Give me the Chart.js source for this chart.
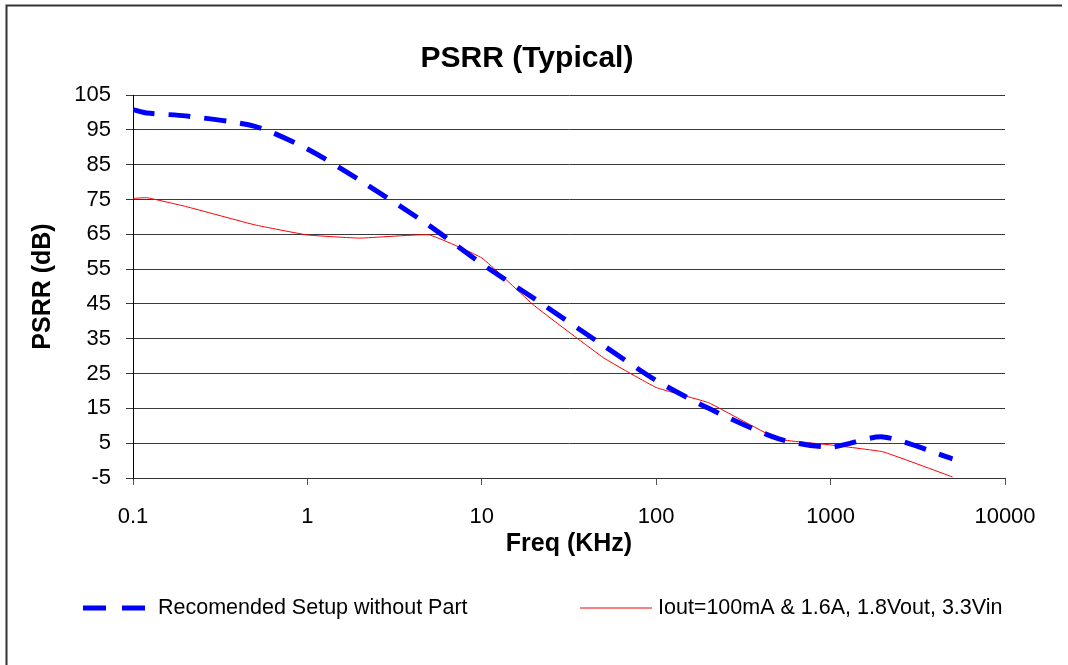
<!DOCTYPE html>
<html>
<head>
<meta charset="utf-8">
<script src="https://cdn.jsdelivr.net/npm/chart.js@4/dist/chart.umd.min.js"></script>
<style>
  html, body { margin: 0; padding: 0; background: #fff; }
  #wrap { width: 1068px; height: 665px; position: relative; }
</style>
</head>
<body>
<div id="wrap"><canvas id="psrr"></canvas></div>
<script>
// frequency points (KHz)
var freqs = [0.1, 0.12, 0.2, 0.5, 1, 2, 5, 10, 20, 50, 100, 200, 500, 1000, 2000, 5000];
// recommended setup without part (dB)
var setupDb = [100.8, 99.8, 99, 96, 89.5, 80.5, 67.5, 56.5, 46.5, 33, 23, 15, 6.3, 3.9, 6.8, 0.5];
// Iout=100mA & 1.6A (dB)
var ioutDb = [75.3, 75.5, 73, 67.7, 64.8, 63.9, 64.8, 58.2, 44.5, 29.5, 21, 16.6, 6.2, 4.5, 2.5, -4.7];

var xTicks = [0.1, 1, 10, 100, 1000, 10000];
var seriesNames = ["Recomended Setup without Part", "Iout=100mA & 1.6A, 1.8Vout, 3.3Vin"];
var chartTitle = "PSRR (Typical)";

var FONT = "'Liberation Sans', Arial, Helvetica, sans-serif";

function pts(ys) {
    return freqs.map(function (f, i) { return { x: f, y: ys[i] }; });
}

// title, legend and outer frame
var decor = {
    id: "decor",
    beforeDraw: function (chart) {
        var ctx = chart.ctx;
        ctx.save();
        ctx.fillStyle = "#fff";
        ctx.fillRect(0, 0, chart.width, chart.height);
        ctx.strokeStyle = "#333";
        ctx.lineWidth = 2;
        ctx.beginPath();
        ctx.moveTo(6.5, chart.height);
        ctx.lineTo(6.5, 5.5);
        ctx.lineTo(1062, 5.5);
        ctx.stroke();
        ctx.restore();
    },
    afterDraw: function (chart) {
        var ctx = chart.ctx;
        ctx.save();
        ctx.fillStyle = "#000";
        ctx.textAlign = "center";
        ctx.textBaseline = "middle";
        ctx.font = "bold 30px " + FONT;
        ctx.fillText(chartTitle, 527, 59);

        // legend
        var ly = 608;
        ctx.lineCap = "butt";
        ctx.strokeStyle = "#0000ff";
        ctx.lineWidth = 5;
        ctx.setLineDash([23, 16]);
        ctx.beginPath();
        ctx.moveTo(83, ly);
        ctx.lineTo(146, ly);
        ctx.stroke();
        ctx.setLineDash([]);
        ctx.strokeStyle = "#ff0000";
        ctx.lineWidth = 1;
        ctx.beginPath();
        ctx.moveTo(580, ly);
        ctx.lineTo(652, ly);
        ctx.stroke();

        ctx.font = "21.5px " + FONT;
        ctx.textAlign = "left";
        ctx.fillText(seriesNames[0], 158, ly);
        ctx.fillText(seriesNames[1], 658, ly);
        ctx.restore();
    }
};

var ctx = document.getElementById("psrr").getContext("2d");
var chart = new Chart(ctx, {
    type: "line",
    data: {
        datasets: [
            {
                label: seriesNames[0],
                data: pts(setupDb),
                borderColor: "#0000ff",
                backgroundColor: "rgba(0, 0, 0, 0)",
                borderWidth: 5,
                borderDash: [22, 14],
                borderCapStyle: "butt",
                pointRadius: 0,
                tension: 0.25
            },
            {
                label: seriesNames[1],
                data: pts(ioutDb),
                borderColor: "#ff0000",
                backgroundColor: "rgba(0, 0, 0, 0)",
                borderWidth: 1,
                pointRadius: 0,
                tension: 0.1
            }
        ]
    },
    options: {
        responsive: true,
        maintainAspectRatio: false,
        animation: false,
        layout: { padding: { left: 0, right: 63, top: 95, bottom: 80 } },
        plugins: {
            legend: { display: false },
            title: { display: false },
            tooltip: { enabled: false }
        },
        scales: {
            x: {
                type: "logarithmic",
                min: 0.1,
                max: 10000,
                afterBuildTicks: function (scale) {
                    scale.ticks = xTicks.map(function (v) { return { value: v }; });
                },
                afterFit: function (scale) {
                    scale.height = 107;
                },
                ticks: {
                    autoSkip: false,
                    maxRotation: 0,
                    padding: 19,
                    color: "#000",
                    font: { family: FONT, size: 22 },
                    callback: function (v) { return String(v); }
                },
                grid: {
                    drawOnChartArea: false,
                    drawTicks: true,
                    tickLength: 7,
                    color: "#555"
                },
                border: { display: true, color: "#333", width: 1 },
                title: {
                    display: true,
                    text: "Freq (KHz)",
                    color: "#000",
                    font: { family: FONT, size: 25, weight: "bold" },
                    padding: { top: 4, bottom: 26 }
                }
            },
            y: {
                min: -5,
                max: 105,
                afterFit: function (scale) {
                    scale.width = 133;
                },
                ticks: {
                    stepSize: 10,
                    padding: 15,
                    color: "#000",
                    font: { family: FONT, size: 22 }
                },
                grid: {
                    drawOnChartArea: true,
                    drawTicks: true,
                    tickLength: 7,
                    color: "#3a3a3a",
                    lineWidth: 1
                },
                border: { display: true, color: "#000", width: 1 },
                title: {
                    display: true,
                    text: "PSRR (dB)",
                    color: "#000",
                    font: { family: FONT, size: 25, weight: "bold" },
                    padding: { top: 28, bottom: 4 }
                }
            }
        }
    },
    plugins: [decor]
});
</script>
</body>
</html>
